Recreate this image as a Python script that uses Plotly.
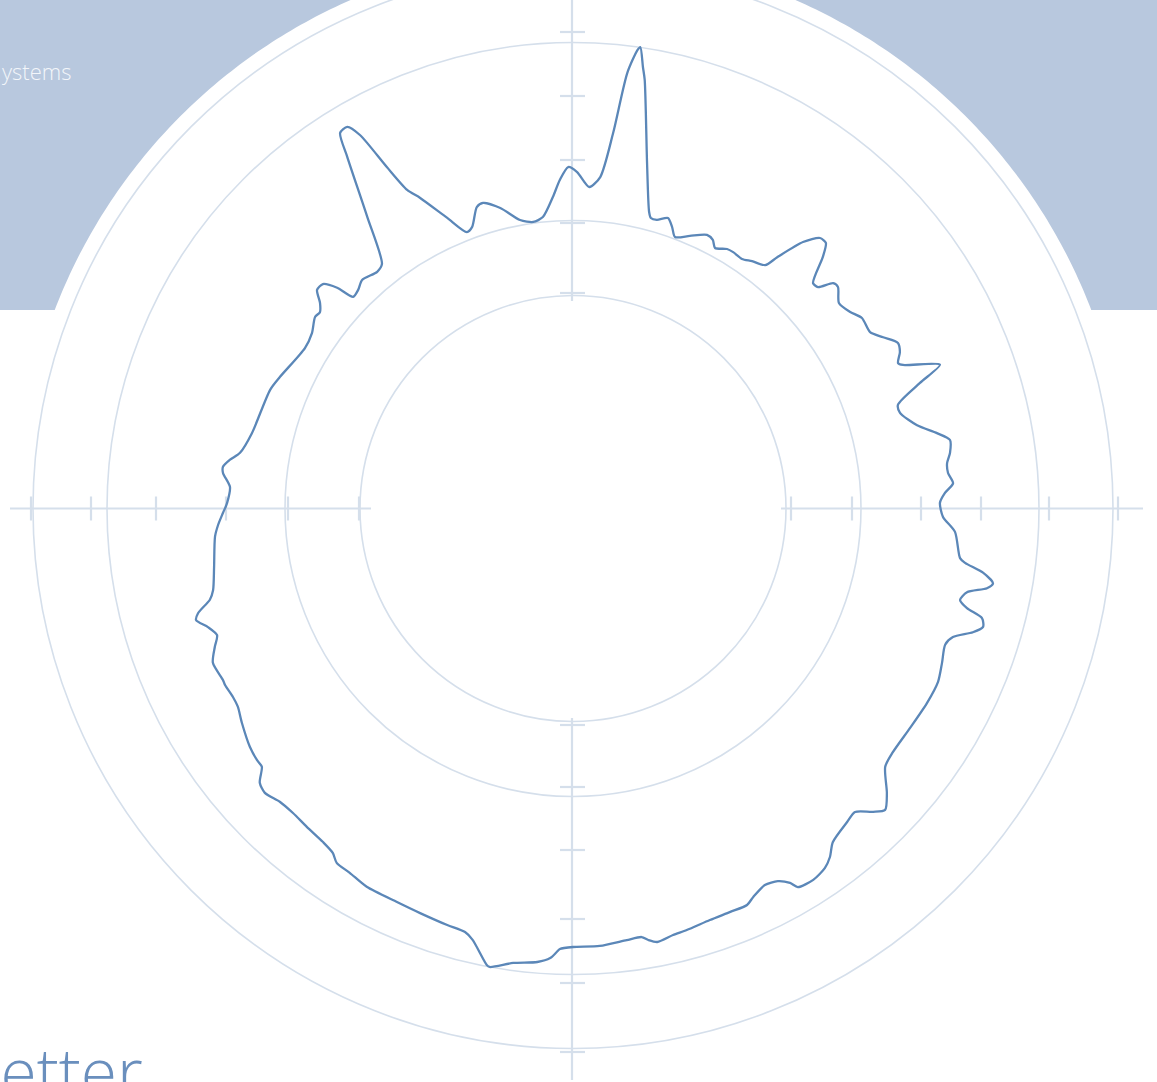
import numpy as np
import plotly.graph_objects as go

# ---------------- data ----------------
# polar profile: angle in degrees clockwise from north, radius in dial units
theta_deg = [0.7, 2.9, 4.7, 6.1, 7.1, 8.0, 8.3, 9.0, 9.5, 12.1, 14.4, 15.0, 16.2, 18.1, 19.4, 20.6,
             23.2, 26.1, 27.5, 28.6, 30.7, 32.0, 34.1, 35.9, 38.3, 39.1, 40.8, 42.4, 43.6, 44.8,
             46.8, 47.9, 49.1, 50.1, 52.3, 54.6, 56.6, 59.3, 61.1, 63.0, 64.4, 65.9, 66.5, 68.6,
             70.1, 72.3, 73.7, 76.4, 78.3, 79.7, 81.6, 83.1, 84.6, 86.2, 87.6, 89.1, 91.3, 93.5,
             97.3, 97.9, 98.9, 100.1, 100.9, 102.0, 103.3, 104.2, 105.0, 106.1, 107.2, 108.7,
             110.1, 112.7, 115.4, 118.8, 123.1, 127.3, 129.6, 132.2, 134.0, 135.3, 137.1, 138.8,
             142.1, 143.6, 145.0, 147.1, 149.3, 149.9, 151.2, 153.0, 155.1, 156.3, 158.7, 161.6,
             164.9, 166.8, 169.0, 170.1, 170.9, 172.9, 176.5, 180.0, 181.7, 182.1, 182.9, 184.5,
             187.5, 190.3, 190.7, 193.1, 194.3, 196.8, 200.7, 204.1, 208.6, 211.5, 213.7, 214.9,
             216.9, 219.9, 222.6, 225.0, 227.3, 228.8, 230.3, 231.5, 233.6, 237.1, 239.4, 241.0,
             243.1, 243.9, 246.8, 248.9, 250.4, 252.0, 253.5, 254.4, 255.9, 257.2, 260.7, 265.5,
             267.3, 269.3, 270.9, 273.6, 275.8, 276.8, 278.1, 279.5, 283.2, 291.4, 294.2, 300.9,
             303.9, 306.6, 307.8, 309.1, 310.5, 311.9, 313.1, 313.9, 315.5, 317.3, 320.4, 322.0,
             324.8, 327.3, 328.2, 329.4, 330.3, 331.4, 332.5, 333.8, 336.6, 339.0, 340.3, 342.3,
             343.6, 346.4, 349.6, 352.1, 354.1, 356.3, 357.7, 359.2]
radius = [336.5, 321.9, 332.6, 377.6, 438.8, 462.9, 466.3, 447.0, 434.5, 353.3, 306.1, 300.8, 300.5,
          305.6, 298.4, 290.0, 296.6, 304.6, 302.8, 296.7, 301.8, 302.3, 301.4, 305.4, 310.1, 323.8,
          352.0, 366.3, 366.7, 354.6, 329.3, 330.3, 344.2, 345.4, 336.1, 339.6, 346.1, 345.5, 354.3,
          364.7, 362.5, 356.1, 359.9, 394.1, 369.0, 341.1, 340.7, 354.0, 371.7, 383.2, 381.1, 376.8,
          376.7, 380.9, 372.3, 367.0, 370.1, 382.7, 390.2, 395.8, 415.0, 426.6, 421.6, 402.8, 397.7,
          406.4, 423.4, 426.8, 418.6, 401.1, 396.3, 400.0, 404.1, 403.9, 402.2, 402.1, 405.2, 423.7,
          433.9, 426.7, 414.3, 416.4, 422.9, 433.0, 439.0, 442.3, 440.3, 432.8, 425.2, 422.6, 428.2,
          433.0, 433.0, 433.7, 436.6, 438.1, 441.6, 438.0, 434.0, 434.9, 438.3, 438.5, 440.7, 443.8,
          450.1, 454.9, 458.4, 466.0, 464.5, 442.9, 437.1, 435.1, 432.5, 431.1, 430.9, 427.3, 425.9,
          419.9, 416.8, 415.0, 413.7, 414.7, 419.3, 416.3, 404.4, 403.9, 401.5, 394.4, 389.4, 388.8,
          390.2, 389.8, 391.8, 383.9, 377.8, 383.8, 393.1, 389.3, 374.4, 369.1, 363.7, 359.1, 355.4,
          350.0, 346.0, 343.7, 351.8, 352.5, 346.4, 337.6, 329.8, 325.3, 321.2, 312.4, 314.5, 321.3,
          320.3, 326.0, 336.6, 336.0, 323.0, 305.2, 306.5, 311.0, 307.2, 310.3, 356.9, 417.9, 441.9,
          443.4, 430.0, 388.9, 359.2, 346.1, 316.6, 296.1, 299.1, 316.4, 318.5, 309.2, 293.3, 289.3,
          293.0, 312.1, 328.8, 341.5]

ring_radii = [213, 288, 466, 540]          # grid rings (dial units)
band_cut_radius = 555                       # circular cut-out of the top band
tick_left = [542, 482, 417, 347, 285, 214]
tick_right = [218, 279, 348, 408, 476, 545]
tick_top = [476.5, 412.5, 348.5, 285.5, 215.5]
tick_bottom = [216.5, 278.5, 341.5, 410.5, 474.5, 543.5]

# ---------------- layout geometry ----------------
W, H = 1157, 1082
CX, CY = 573.0, 508.5        # dial centre in pixels (from top-left)
R_PLOT = 500                 # polar radial range == pixels
BAND_BOTTOM = 310

GRID = "#d5dfeb"
LINE = "#5b87b8"
BAND = "#b8c8de"


def fx(x):
    return x / W


def fy(y):
    return 1 - y / H


shapes = []

# top band minus circular cut-out (left and right pieces)
for side in (-1, 1):
    dx_top = np.sqrt(band_cut_radius**2 - CY**2)
    dx_bot = np.sqrt(band_cut_radius**2 - (CY - BAND_BOTTOM) ** 2)
    a1 = np.arctan2(-CY, side * dx_top)
    a2 = np.arctan2(BAND_BOTTOM - CY, side * dx_bot)
    ang = np.linspace(a1, a2, 80)
    xs = CX + band_cut_radius * np.cos(ang)
    ys = CY + band_cut_radius * np.sin(ang)
    edge_x = 0 if side < 0 else W
    pts = [(edge_x, 0)] + list(zip(xs, ys)) + [(edge_x, BAND_BOTTOM)]
    path = "M " + " L ".join(f"{fx(x):.5f},{fy(y):.5f}" for x, y in pts) + " Z"
    shapes.append(dict(type="path", xref="paper", yref="paper", path=path,
                       fillcolor=BAND, line=dict(width=0), layer="below"))

# rings
for rr in ring_radii:
    shapes.append(dict(type="circle", xref="paper", yref="paper",
                       x0=fx(CX - rr), x1=fx(CX + rr), y0=fy(CY + rr), y1=fy(CY - rr),
                       line=dict(color=GRID, width=1.6), layer="below"))

# crosshair segments
def seg(x0, y0, x1, y1, w=2.2):
    shapes.append(dict(type="line", xref="paper", yref="paper",
                       x0=fx(x0), y0=fy(y0), x1=fx(x1), y1=fy(y1),
                       line=dict(color=GRID, width=w), layer="below"))

seg(CX - 563, CY, CX - 202, CY)
seg(CX + 208, CY, CX + 570, CY)
seg(CX - 1, 0, CX - 1, CY - 207.5)
seg(CX - 1, CY + 209.5, CX - 1, H - 2)
for d in tick_left:
    seg(CX - d, CY - 12, CX - d, CY + 12)
for d in tick_right:
    seg(CX + d, CY - 12, CX + d, CY + 12)
for d in tick_top:
    seg(CX - 13, CY - d, CX + 12, CY - d)
for d in tick_bottom:
    seg(CX - 13, CY + d, CX + 12, CY + d)

fig = go.Figure()
fig.add_trace(go.Scatterpolar(
    r=radius + radius[:1], theta=theta_deg + theta_deg[:1], mode="lines",
    line=dict(color=LINE, width=2.3, shape="spline", smoothing=0.7),
    hoverinfo="skip", showlegend=False))

fig.update_layout(
    width=W, height=H,
    margin=dict(l=0, r=0, t=0, b=0),
    paper_bgcolor="white",
    showlegend=False,
    shapes=shapes,
    polar=dict(
        domain=dict(x=[fx(CX - R_PLOT), fx(CX + R_PLOT)], y=[fy(CY + R_PLOT), fy(CY - R_PLOT)]),
        bgcolor="rgba(0,0,0,0)",
        radialaxis=dict(range=[0, R_PLOT], visible=False),
        angularaxis=dict(visible=False, rotation=90, direction="clockwise"),
    ),
    annotations=[
        dict(text="ystems", xref="paper", yref="paper", x=fx(0), y=fy(71),
             xanchor="left", yanchor="middle", showarrow=False,
             font=dict(family="Open Sans", size=22, color="#f3f6fa", weight=300)),
        dict(text="Better", xref="paper", yref="paper", x=fx(145), y=fy(1070),
             xanchor="right", yanchor="middle", showarrow=False,
             font=dict(family="Open Sans", size=66, color="#6a8fbd", weight=300)),
    ],
)

fig.write_html("out.html")
